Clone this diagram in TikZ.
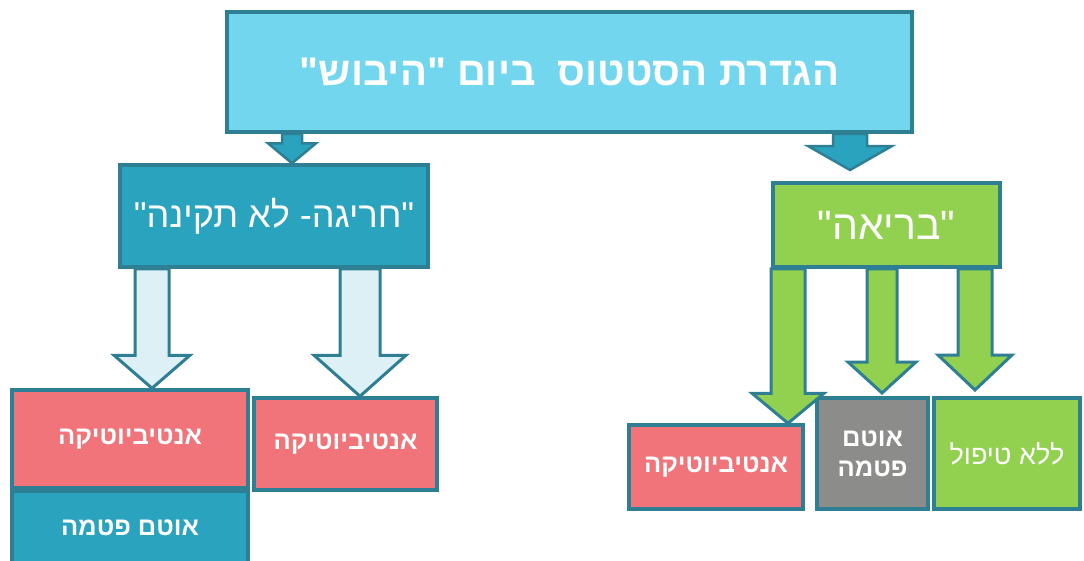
\documentclass[tikz,border=0pt]{standalone}
\usepackage{fontspec}
\setmainfont{Liberation Sans}
\newfontfamily\hebfont[Script=Hebrew]{Liberation Sans}
\TeXXeTstate=1
\usepackage{tikz}
\usetikzlibrary{positioning, calc}

\definecolor{edgeteal}{HTML}{2E7F94}
\definecolor{skyfill}{HTML}{72D7EE}
\definecolor{tealfill}{HTML}{2AA3BF}
\definecolor{leaffill}{HTML}{92D14F}
\definecolor{rosefill}{HTML}{F07479}
\definecolor{greyfill}{HTML}{8C8C8B}
\definecolor{palefill}{HTML}{DDF0F5}

% block arrow: style, from, to, half shaft, half head, head length
\newcommand{\blockarrow}[6]{%
  \path[#1] let \p1=(#2), \p2=(#3) in
    (\x1-#4,\y1) -- (\x1+#4,\y1) -- (\x1+#4,\y2+#6) -- (\x1+#5,\y2+#6)
    -- (\x1,\y2) -- (\x1-#5,\y2+#6) -- (\x1-#4,\y2+#6) -- cycle;}

\begin{document}
\begin{tikzpicture}[x=1pt, y=-1pt,
  box/.style={rectangle, draw=edgeteal, line width=3.5pt, text=white,
              align=center, inner sep=2pt},
  headbox/.style={box, fill=skyfill, font=\hebfont\bfseries\fontsize{40}{44}\selectfont},
  groupbox/.style={box, font=\hebfont\fontsize{36}{40}\selectfont},
  leafbox/.style={box, font=\hebfont\bfseries\fontsize{25.5}{30}\selectfont},
  toparrow/.style={draw=edgeteal, fill=tealfill, line width=2.5pt},
  palearrow/.style={draw=edgeteal, fill=palefill, line width=3pt},
  leafarrow/.style={draw=edgeteal, fill=leaffill, line width=3pt}
]
\useasboundingbox (0,0) rectangle (1084,560);

\node[headbox, minimum width=685pt, minimum height=120pt] (hdr) at (569.5,72)
  {\beginR הגדרת הסטטוס\ \ ביום "היבוש"\endR};

\node[groupbox, fill=tealfill, minimum width=308pt, minimum height=102pt] (odd) at (274,216)
  {\beginR "חריגה- לא תקינה"\endR};
\node[groupbox, fill=leaffill, minimum width=227pt, minimum height=84pt,
      font=\hebfont\fontsize{41}{44}\selectfont] (well) at (886.5,225)
  {\beginR "בריאה"\endR};

\node[leafbox, fill=rosefill, minimum width=236pt, minimum height=98pt] (abx1) at (130,439)
  {\beginR אנטיביוטיקה\endR};
\node[leafbox, fill=tealfill, minimum width=236pt, minimum height=72pt, below=0pt of abx1] (ptm1)
  {\beginR אוטם פטמה\endR};
\node[leafbox, fill=rosefill, minimum width=183pt, minimum height=92pt] (abx2) at (345.5,444)
  {\beginR אנטיביוטיקה\endR};

\node[leafbox, fill=rosefill, minimum width=174pt, minimum height=84pt] (abx3) at (716,467)
  {\beginR אנטיביוטיקה\endR};
\node[leafbox, fill=greyfill, minimum width=111pt, minimum height=111pt] (ptm2) at (872.5,453.5)
  {\beginR אוטם\endR\\\beginR פטמה\endR};
\node[leafbox, fill=leaffill, minimum width=146pt, minimum height=111pt,
      font=\hebfont\fontsize{27}{30}\selectfont] (none) at (1007,453.5)
  {\beginR ללא טיפול\endR};

\coordinate (wtip) at (850,170);
\coordinate (ptip) at (882,393);
\coordinate (ntip) at (975,390);

\blockarrow{toparrow}{hdr.south -| 292,0}{odd.north -| 292,0}{10pt}{24pt}{20pt}
\blockarrow{toparrow}{hdr.south -| 850,0}{wtip}{17pt}{42pt}{24pt}

\blockarrow{palearrow}{odd.south -| 152,0}{abx1.north -| 152,0}{17pt}{38pt}{33pt}
\blockarrow{palearrow}{odd.south -| 360,0}{abx2.north -| 360,0}{20pt}{46pt}{41pt}

\blockarrow{leafarrow}{well.south -| 788,0}{abx3.north -| 788,0}{17pt}{36pt}{30pt}
\blockarrow{leafarrow}{well.south -| 882,0}{ptip}{15pt}{34pt}{31pt}
\blockarrow{leafarrow}{well.south -| 975,0}{ntip}{17pt}{37pt}{35pt}

\end{tikzpicture}
\end{document}
